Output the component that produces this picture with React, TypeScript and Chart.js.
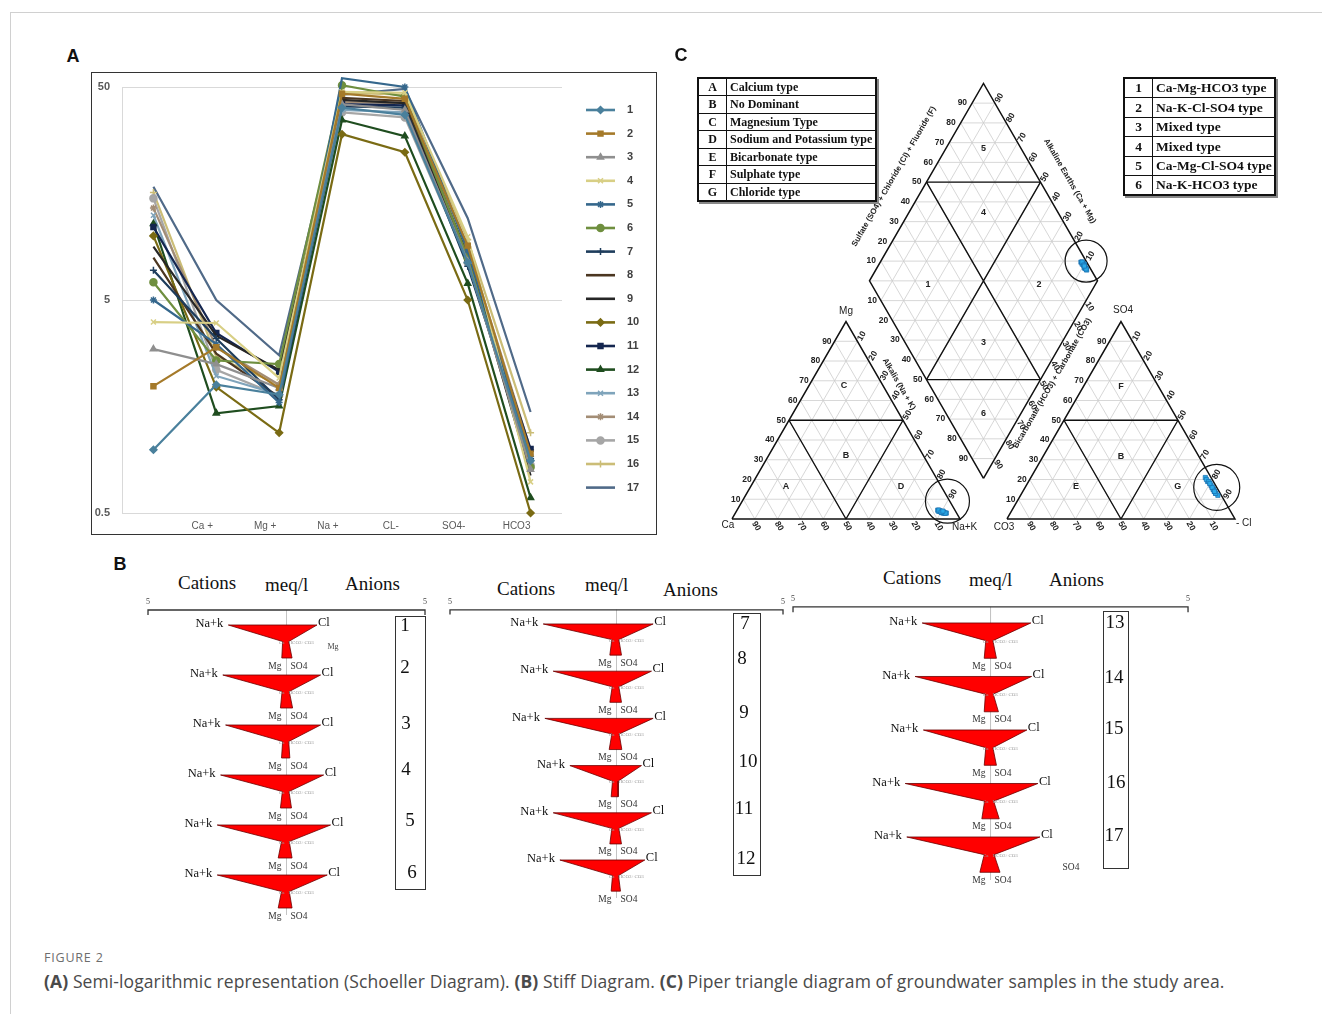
import React, { useEffect, useRef } from "react";
import { Chart, registerables } from "chart.js";
import { drawPoint } from "chart.js/helpers";

Chart.register(...registerables);

const SANS = '"Liberation Sans", Arial, sans-serif';
const SERIF = '"Liberation Serif", "Times New Roman", serif';
const CAPTION_FONT = '"Open Sans", "Noto Sans", sans-serif';

/* ---------------- Panel A : Schoeller diagram ---------------- */
const ionCategories = ["", "Ca +", "Mg +", "Na +", "CL-", "SO4-", "HCO3"];
const sampleIds = ["1", "2", "3", "4", "5", "6", "7", "8", "9", "10", "11", "12", "13", "14", "15", "16", "17"];
const schoeller01 = [0.99, 2.0, 1.8, 40, 37, 7.5, 0.88];
const schoeller02 = [1.97, 3.0, 1.93, 46.5, 44, 9.0, 0.95];
const schoeller03 = [2.94, 2.5, 1.93, 41.5, 39, 7.6, 0.8];
const schoeller04 = [3.94, 3.9, 2.15, 47.5, 47, 9.9, 0.7];
const schoeller05 = [5.0, 3.1, 1.65, 55, 50, 8.5, 0.92];
const schoeller06 = [6.06, 2.6, 2.5, 51, 45, 7.9, 0.82];
const schoeller07 = [6.9, 3.3, 1.7, 40.5, 40, 7.2, 0.9];
const schoeller08 = [7.9, 2.8, 1.75, 44.5, 43, 8.1, 0.78];
const schoeller09 = [8.9, 3.4, 2.35, 43.5, 42, 8.0, 0.75];
const schoeller10 = [10.0, 1.95, 1.19, 30, 24.7, 5.0, 0.5];
const schoeller11 = [11.0, 3.5, 2.3, 41.5, 41, 7.9, 1.0];
const schoeller12 = [11.4, 1.47, 1.59, 35, 29.4, 5.98, 0.59];
const schoeller13 = [12.5, 2.2, 1.8, 39, 38, 8.1, 0.91];
const schoeller14 = [13.5, 3.0, 2.0, 42.5, 42, 8.9, 0.99];
const schoeller15 = [15, 2.35, 1.78, 38, 36, 7.5, 0.84];
const schoeller16 = [16, 2.7, 2.0, 47, 46, 9.6, 1.19];
const schoeller17 = [17.0, 5.0, 2.75, 46, 49, 12.1, 1.49];
const schoellerTicks = [0.5, 5, 50];

const sampleColors = [
  "#4a809c", "#a57a2a", "#8f8f8f", "#d8cf85", "#35678c", "#6f8f3f", "#1e3d5c", "#4b3621", "#262626",
  "#7a6b14", "#14264f", "#1f4d1f", "#7fa4bb", "#a38d75", "#a6a6a6", "#cbbd77", "#506a88",
];
const sampleMarkers = [
  "rectRot", "rect", "triangle", "crossRot", "star", "circle", "cross", null, null,
  "rectRot", "rect", "triangle", "crossRot", "star", "circle", "cross", null,
];

/* ---------------- Panel B : Stiff diagrams (meq/l) ---------------- */
const stiffScale = [-5, 5];
const stiffHeader = ["Cations", "meq/l", "Anions"];
const stiffNaK = [2.1, 2.3, 2.2, 2.38, 2.5, 2.5, 2.2, 1.9, 2.15, 1.4, 1.9, 1.7, 1.73, 1.91, 1.7, 2.16, 2.12];
const stiffCl = [1.1, 1.23, 1.23, 1.34, 1.59, 1.47, 1.1, 1.05, 1.1, 0.75, 1.05, 0.85, 1.02, 1.04, 0.92, 1.2, 1.25];
const stiffCa = [0.14, 0.16, 0.14, 0.15, 0.18, 0.18, 0.14, 0.13, 0.14, 0.12, 0.14, 0.12, 0.12, 0.13, 0.12, 0.15, 0.16];
const stiffHCO3 = [0.08, 0.1, 0.08, 0.09, 0.1, 0.1, 0.07, 0.07, 0.08, 0.05, 0.07, 0.06, 0.06, 0.07, 0.06, 0.08, 0.09];
const stiffMg = [0.17, 0.22, 0.18, 0.22, 0.3, 0.3, 0.2, 0.2, 0.22, 0.16, 0.2, 0.16, 0.16, 0.16, 0.16, 0.22, 0.27];
const stiffSO4 = [0.2, 0.22, 0.12, 0.18, 0.2, 0.2, 0.15, 0.15, 0.16, 0.05, 0.15, 0.12, 0.15, 0.2, 0.15, 0.22, 0.24];
const stiffGroups = [[0, 1, 2, 3, 4, 5], [6, 7, 8, 9, 10, 11], [12, 13, 14, 15, 16]];

/* ---------------- Panel C : Piper diagram (%) ---------------- */
const piperMg = [3.5, 4, 3, 3.5, 4.5, 4, 3, 3, 4, 3.5, 3, 4, 3.5, 3, 4.5, 3.5, 4];
const piperNaK = [90, 89, 91, 90.5, 88, 89.5, 91.5, 92, 89, 90, 92.5, 88.5, 91, 92, 88.5, 90, 90.5];
const piperSO4 = [16, 14, 19, 13, 21, 15, 18, 14, 20, 12, 17, 15, 19, 16, 13, 18, 14];
const piperCl = [82, 84, 78.5, 85, 76.5, 83, 80, 84, 77.5, 86.5, 81, 83, 79, 82, 85, 80, 84];
const circleCation = [9, 90]; // Mg, Na+K
const circleAnion = [16, 84]; // SO4, Cl
const ternarySteps = [10, 20, 30, 40, 50, 60, 70, 80, 90];

const fieldCodes = ["A", "B", "C", "D", "E", "F", "G"];
const fieldNames = ["Calcium type", "No Dominant", "Magnesium Type", "Sodium and Potassium type", "Bicarbonate type", "Sulphate type", "Chloride type"];
const diamondCodes = ["1", "2", "3", "4", "5", "6"];
const diamondNames = ["Ca-Mg-HCO3 type", "Na-K-Cl-SO4 type", "Mixed type", "Mixed type", "Ca-Mg-Cl-SO4 type", "Na-K-HCO3 type"];

/* ---------------- geometry helpers (ternary -> cartesian) ---------------- */
const R3 = Math.sqrt(3);
const HH = R3 / 2;
const GAP = 20.6;
function catXY(mg: number, nak: number) { return { x: nak + mg / 2, y: mg * HH }; }
function anXY(so4: number, cl: number) { return { x: 100 + GAP + cl + so4 / 2, y: so4 * HH }; }
function diaXY(c: any, a: any) {
  const s = (a.x - c.x) + (a.y - c.y) / R3;
  return { x: c.x + s / 2, y: c.y + s * HH };
}
const DB = { x: 100 + GAP / 2, y: GAP * HH };
function diaUV(u: number, v: number) { return { x: DB.x + 50 * u - 50 * v, y: DB.y + 100 * HH * (u + v) }; }
const brk = () => ({ x: NaN, y: NaN });
function segData(segs: any[]) {
  const out: any[] = [];
  segs.forEach(([a, b]) => { out.push({ x: a.x, y: a.y }, { x: b.x, y: b.y }, brk()); });
  return out;
}
function triGrid(f: any) {
  const s: any[] = [];
  ternarySteps.forEach((k) => {
    s.push([f(k, 0), f(k, 100 - k)]);
    s.push([f(0, k), f(100 - k, k)]);
    s.push([f(0, 100 - k), f(100 - k, 0)]);
  });
  return s;
}
function diamondGrid() {
  const s: any[] = [];
  ternarySteps.forEach((k) => {
    const t = k / 100;
    s.push([diaUV(t, 0), diaUV(t, 1)]);
    s.push([diaUV(0, t), diaUV(1, t)]);
  });
  for (let j = 1; j < 20; j++) {
    const t = j / 10;
    if (j <= 10) s.push([diaUV(0, t), diaUV(t, 0)]);
    else s.push([diaUV(t - 1, 1), diaUV(1, t - 1)]);
  }
  return s;
}

/* ---------------- Schoeller chart ---------------- */
const schoellerLegend = {
  id: "schoellerLegend",
  afterDraw(chart: any) {
    const ctx = chart.ctx;
    sampleIds.forEach((id, i) => {
      const y = 37 + i * 23.6;
      const c = sampleColors[i];
      ctx.save();
      ctx.strokeStyle = c;
      ctx.fillStyle = c;
      ctx.lineWidth = 2.6;
      ctx.beginPath();
      ctx.moveTo(494, y);
      ctx.lineTo(523, y);
      ctx.stroke();
      const m = sampleMarkers[i];
      if (m) {
        ctx.lineWidth = 1.5;
        drawPoint(ctx, { pointStyle: m, radius: 3.5, borderWidth: 1.5, rotation: 0 } as any, 508.5, y);
      }
      ctx.fillStyle = "#404040";
      ctx.font = `bold 11px ${SANS}`;
      ctx.textAlign = "left";
      ctx.textBaseline = "middle";
      ctx.fillText(id, 535, y);
      ctx.restore();
    });
  },
};

function SchoellerChart() {
  const ref = useRef<HTMLCanvasElement | null>(null);
  useEffect(() => {
    const series = [schoeller01, schoeller02, schoeller03, schoeller04, schoeller05, schoeller06, schoeller07, schoeller08, schoeller09,
      schoeller10, schoeller11, schoeller12, schoeller13, schoeller14, schoeller15, schoeller16, schoeller17];
    const chart = new Chart(ref.current as HTMLCanvasElement, {
      type: "line",
      data: {
        labels: ionCategories,
        datasets: series.map((d, i) => ({
          label: sampleIds[i],
          data: d,
          borderColor: sampleColors[i],
          backgroundColor: sampleColors[i],
          borderWidth: 2.2,
          pointStyle: sampleMarkers[i] || "circle",
          pointRadius: sampleMarkers[i] ? 3.5 : 0,
          pointBorderWidth: 1.5,
          tension: 0,
          clip: false,
        })),
      },
      options: {
        animation: false,
        responsive: false,
        events: [],
        layout: { autoPadding: false, padding: { top: 14, left: 0, right: 94, bottom: 0 } },
        plugins: { legend: { display: false }, tooltip: { enabled: false } },
        scales: {
          x: {
            type: "category",
            offset: true,
            grid: { display: false, drawTicks: false },
            border: { display: false },
            ticks: { color: "#595959", font: { size: 10, family: SANS }, labelOffset: -14, padding: 7, maxRotation: 0, autoSkip: false },
            afterFit: (s: any) => { s.height = 21; s.paddingLeft = 0; s.paddingRight = 0; },
          },
          y: {
            type: "logarithmic",
            min: 0.5,
            max: 50,
            bounds: "data",
            afterBuildTicks: (s: any) => { s.ticks = schoellerTicks.map((v) => ({ value: v })); },
            grid: { color: "#d9d9d9", lineWidth: 1, drawTicks: false },
            border: { display: true, color: "#d9d9d9" },
            ticks: { color: "#595959", font: { size: 11, weight: "bold", family: SANS }, padding: 12, callback: (v: any) => String(v) },
            afterFit: (s: any) => { s.width = 30; s.paddingTop = 0; s.paddingBottom = 0; },
          },
        },
      },
      plugins: [schoellerLegend],
    } as any);
    return () => chart.destroy();
  }, []);
  return <canvas ref={ref} width={564} height={461} style={{ position: "absolute", left: 92, top: 73, width: 564, height: 461 }} />;
}

/* ---------------- Piper chart ---------------- */
const PIPER_BOX = { left: 690, top: 60, width: 600, height: 490 };
const PIPER_X = [-18.42, -18.42 + 600 / 2.28];
const PIPER_Y = [-13.6, -13.6 + 490 / 2.28];

const piperLabels = {
  id: "piperLabels",
  afterDatasetsDraw(chart: any) {
    const { ctx } = chart;
    const xs = chart.scales.x;
    const ys = chart.scales.y;
    const px = (p: any) => ({ x: xs.getPixelForValue(p.x), y: ys.getPixelForValue(p.y) });
    const draw = (s: string, x: number, y: number, align: string, rot: number, font: string, color = "#222") => {
      ctx.save();
      ctx.translate(x, y);
      if (rot) ctx.rotate(rot);
      ctx.font = font;
      ctx.fillStyle = color;
      ctx.textAlign = align;
      ctx.textBaseline = "middle";
      ctx.fillText(s, 0, 0);
      ctx.restore();
    };
    const tf = `bold 8.5px ${SANS}`;
    const R60 = Math.PI / 3;
    ternarySteps.forEach((k) => {
      const t = String(k);
      const f = k / 100;
      let p = px(catXY(k, 0)); draw(t, p.x - 3, p.y, "right", 0, tf);
      p = px(catXY(0, 100 - k)); draw(t, p.x - 1, p.y + 3, "left", R60, tf);
      p = px(catXY(100 - k, k)); draw(t, p.x + 2, p.y - 1, "left", -R60, tf);
      p = px(anXY(k, 0)); draw(t, p.x - 3, p.y, "right", 0, tf);
      p = px(anXY(0, 100 - k)); draw(t, p.x - 1, p.y + 3, "left", R60, tf);
      p = px(anXY(100 - k, k)); draw(t, p.x + 2, p.y - 1, "left", -R60, tf);
      p = px(diaUV(0, 1 - f)); draw(t, p.x - 4, p.y, "right", 0, tf);
      p = px(diaUV(f, 1)); draw(t, p.x - 5, p.y, "right", 0, tf);
      p = px(diaUV(1, f)); draw(t, p.x + 2, p.y - 1, "left", -R60, tf);
      p = px(diaUV(1 - f, 0)); draw(t, p.x + 1, p.y + 2, "left", R60, tf);
    });
    const ttl = `bold 8px ${SANS}`;
    const edgeTitle = (s: string, p0: any, nx: number, ny: number, d: number, rot: number) => {
      const p = px(p0);
      draw(s, p.x + nx * d, p.y + ny * d, "center", rot, ttl);
    };
    edgeTitle("Sulfate (SO4) + Chloride (Cl) + Fluoride (F)", diaUV(0.45, 1), -0.866, -0.5, 31, -R60);
    edgeTitle("Alkaline Earths (Ca + Mg)", diaUV(1, 0.44), 0.866, -0.5, 26, R60);
    edgeTitle("Alkalis (Na + K)", catXY(64.6, 35.4), 0.866, -0.5, 14.6, R60);
    edgeTitle("Bicarbonate (HCO3) + Carbonate (CO3)", diaUV(0.512, 0), 0.866, 0.5, 12, -R60);

    const vf = `10px ${SANS}`;
    let p = px(catXY(0, 0)); draw("Ca", p.x - 4, p.y + 6, "center", 0, vf);
    p = px(catXY(0, 100)); draw("Na+K", p.x - 8, p.y + 8, "left", 0, vf);
    p = px(catXY(100, 0)); draw("Mg", p.x, p.y - 10, "center", 0, vf);
    p = px(anXY(0, 0)); draw("CO3", p.x - 3, p.y + 8, "center", 0, vf);
    p = px(anXY(0, 100)); draw("- Cl", p.x + 1, p.y + 4, "left", 0, vf);
    p = px(anXY(100, 0)); draw("SO4", p.x + 2, p.y - 11, "center", 0, vf);

    const rf = `bold 9px ${SANS}`;
    ([["A", 16.7, 15.3], ["B", 31.9, 34], ["C", 67.4, 15.4], ["D", 16.2, 66]] as any[]).forEach(([s, a, b]) => {
      const q = px(catXY(a, b)); draw(s, q.x, q.y, "center", 0, rf);
    });
    ([["E", 16.2, 22.2], ["F", 66.9, 16.6], ["B", 31.4, 34.3], ["G", 16.7, 66.6]] as any[]).forEach(([s, a, b]) => {
      const q = px(anXY(a, b)); draw(s, q.x, q.y, "center", 0, rf);
    });
    ([["1", 0.246, 0.733], ["2", 0.733, 0.246], ["3", 0.343, 0.343], ["4", 0.672, 0.672], ["5", 0.836, 0.836], ["6", 0.165, 0.165]] as any[]).forEach(([s, u, v]) => {
      const q = px(diaUV(u, v)); draw(s, q.x, q.y, "center", 0, rf);
    });
  },
};

function PiperChart() {
  const ref = useRef<HTMLCanvasElement | null>(null);
  useEffect(() => {
    const grid = segData([...triGrid(catXY), ...triGrid(anXY), ...diamondGrid()]);
    const tri = (f: any) => [f(0, 0), f(0, 100), f(100, 0), f(0, 0)];
    const outline = [...tri(catXY), brk(), ...tri(anXY), brk(), diaUV(0, 0), diaUV(1, 0), diaUV(1, 1), diaUV(0, 1), diaUV(0, 0)];
    const triDiv = (f: any) => [[f(50, 0), f(50, 50)], [f(50, 0), f(0, 50)], [f(50, 50), f(0, 50)]];
    const dividers = segData([
      ...triDiv(catXY), ...triDiv(anXY),
      [diaUV(0.5, 1), diaUV(1, 0.5)], [diaUV(0, 0.5), diaUV(0.5, 0)],
      [diaUV(0.5, 1), diaUV(0.5, 0)], [diaUV(1, 0.5), diaUV(0, 0.5)],
    ]);
    const catPts = piperMg.map((m, i) => catXY(m, piperNaK[i]));
    const anPts = piperSO4.map((s, i) => anXY(s, piperCl[i]));
    const diaPts = catPts.map((c, i) => diaXY(c, anPts[i]));
    const cc = catXY(circleCation[0], circleCation[1]);
    const ac = anXY(circleAnion[0], circleAnion[1]);
    const dc = diaXY(cc, ac);
    const chart = new Chart(ref.current as HTMLCanvasElement, {
      type: "scatter",
      data: {
        datasets: [
          { data: [...catPts, ...anPts, ...diaPts], pointStyle: "rect", pointRadius: 3, backgroundColor: "#2aa9e8", borderColor: "#1a6fae", borderWidth: 0.7, showLine: false, order: 0 },
          { data: [cc, ac, dc], pointStyle: "circle", pointRadius: [22, 23, 21], backgroundColor: "rgba(0,0,0,0)", borderColor: "#111", borderWidth: 1.2, showLine: false, order: 1 },
          { data: dividers, showLine: true, borderColor: "#111", borderWidth: 1.4, pointRadius: 0, order: 2 },
          { data: outline, showLine: true, borderColor: "#111", borderWidth: 1.5, pointRadius: 0, order: 3 },
          { data: grid, showLine: true, borderColor: "#cdcdcd", borderWidth: 0.8, pointRadius: 0, order: 4 },
        ],
      },
      options: {
        animation: false,
        responsive: false,
        events: [],
        layout: { autoPadding: false, padding: 0 },
        plugins: { legend: { display: false }, tooltip: { enabled: false } },
        scales: {
          x: { type: "linear", min: PIPER_X[0], max: PIPER_X[1], bounds: "data", display: false },
          y: { type: "linear", min: PIPER_Y[0], max: PIPER_Y[1], bounds: "data", display: false },
        },
      },
      plugins: [piperLabels],
    } as any);
    return () => chart.destroy();
  }, []);
  return (
    <canvas ref={ref} width={PIPER_BOX.width} height={PIPER_BOX.height}
      style={{ position: "absolute", left: PIPER_BOX.left, top: PIPER_BOX.top, width: PIPER_BOX.width, height: PIPER_BOX.height }} />
  );
}

/* ---------------- Stiff charts ---------------- */
const stiffFrames = [
  { left: 140, top: 595, width: 300, height: 330, xMin: -5.289, xMax: 5.541, yMin: -0.6, yMax: 6.0 },
  { left: 440, top: 595, width: 360, height: 330, xMin: -5.3, xMax: 5.51, yMin: -0.614, yMax: 6.377 },
  { left: 785, top: 595, width: 415, height: 330, xMin: -5.203, xMax: 5.303, yMin: -0.523, yMax: 5.645 },
];

function StiffChart({ gi }: { gi: number }) {
  const ref = useRef<HTMLCanvasElement | null>(null);
  const fr = stiffFrames[gi];
  useEffect(() => {
    const members = stiffGroups[gi];
    const datasets: any[] = members.map((s, i) => ({
      data: [
        { x: -stiffNaK[s], y: i }, { x: stiffCl[s], y: i },
        { x: stiffHCO3[s], y: i + 0.33 }, { x: stiffSO4[s], y: i + 0.66 },
        { x: -stiffMg[s], y: i + 0.66 }, { x: -stiffCa[s], y: i + 0.33 },
        { x: -stiffNaK[s], y: i },
      ],
      showLine: true, fill: "shape", backgroundColor: "#ff0000", borderColor: "#6b0000", borderWidth: 0.8, pointRadius: 0, order: 0,
    }));
    datasets.push({
      data: [{ x: stiffScale[0], y: -0.2 }, { x: stiffScale[0], y: -0.3 }, { x: stiffScale[1], y: -0.3 }, { x: stiffScale[1], y: -0.2 }],
      showLine: true, borderColor: "#333", borderWidth: 1.3, pointRadius: 0, order: 1,
    });
    datasets.push({
      data: [{ x: 0, y: -0.3 }, { x: 0, y: members.length - 1 + 0.8 }],
      showLine: true, borderColor: "#c4c4c4", borderWidth: 1, pointRadius: 0, order: 2,
    });
    const labels = {
      id: "stiffLabels",
      afterDatasetsDraw(chart: any) {
        const { ctx } = chart;
        const X = (v: number) => chart.scales.x.getPixelForValue(v);
        const Y = (v: number) => chart.scales.y.getPixelForValue(v);
        const draw = (s: string, x: number, y: number, align: string, font: string, color = "#111") => {
          ctx.save();
          ctx.font = font;
          ctx.fillStyle = color;
          ctx.textAlign = align;
          ctx.textBaseline = "middle";
          ctx.fillText(s, x, y);
          ctx.restore();
        };
        draw("5", X(stiffScale[0]), Y(-0.3) - 8, "center", `8px ${SERIF}`, "#444");
        draw("5", X(stiffScale[1]), Y(-0.3) - 8, "center", `8px ${SERIF}`, "#444");
        members.forEach((s, i) => {
          draw("Na+k", X(-stiffNaK[s]) - 5, Y(i) - 1, "right", `12.5px ${SERIF}`);
          draw("Cl", X(stiffCl[s]) + 1, Y(i) - 2, "left", `12.5px ${SERIF}`);
          draw("Ca", X(0) - 2, Y(i + 0.33) + 1, "right", `5px ${SERIF}`, "#999");
          draw("HCO3+CO3", X(0) + 2, Y(i + 0.33) + 1, "left", `5px ${SERIF}`, "#999");
          draw("Mg", X(0) - 5, Y(i + 0.66) + 8, "right", `9.5px ${SERIF}`, "#333");
          draw("SO4", X(0) + 4, Y(i + 0.66) + 8, "left", `9.5px ${SERIF}`, "#333");
        });
      },
    };
    const chart = new Chart(ref.current as HTMLCanvasElement, {
      type: "scatter",
      data: { datasets },
      options: {
        animation: false,
        responsive: false,
        events: [],
        layout: { autoPadding: false, padding: 0 },
        plugins: { legend: { display: false }, tooltip: { enabled: false } },
        scales: {
          x: { type: "linear", min: fr.xMin, max: fr.xMax, bounds: "data", display: false },
          y: { type: "linear", min: fr.yMin, max: fr.yMax, reverse: true, bounds: "data", display: false },
        },
      },
      plugins: [labels],
    } as any);
    return () => chart.destroy();
  }, [gi]);
  return <canvas ref={ref} width={fr.width} height={fr.height} style={{ position: "absolute", left: fr.left, top: fr.top, width: fr.width, height: fr.height }} />;
}

/* ---------------- HTML helpers ---------------- */
function T({ x, y, s, children, anchor = "left", font = SERIF, weight = "normal", color = "#111" }: any) {
  const tr = anchor === "center" ? "translateX(-50%)" : anchor === "right" ? "translateX(-100%)" : undefined;
  return (
    <div style={{ position: "absolute", left: x, top: y - s * 0.6, fontSize: s, lineHeight: `${s * 1.2}px`, fontFamily: font, fontWeight: weight, color, whiteSpace: "nowrap", transform: tr }}>
      {children}
    </div>
  );
}

function TypeTable({ left, top, width, rowH, codeW, codes, names, fontSize }: any) {
  return (
    <table style={{ position: "absolute", left, top, width, borderCollapse: "collapse", border: "2px solid #111", boxShadow: "2px 2px 0 #888", fontFamily: SERIF, fontWeight: "bold", fontSize, color: "#111", background: "#fff" }}>
      <tbody>
        {codes.map((c: string, i: number) => (
          <tr key={i} style={{ height: rowH }}>
            <td style={{ width: codeW, border: "1.5px solid #111", textAlign: "center", padding: 0, lineHeight: 1 }}>{c}</td>
            <td style={{ border: "1.5px solid #111", padding: "0 0 0 3px", lineHeight: 1, whiteSpace: "nowrap" }}>{names[i]}</td>
          </tr>
        ))}
      </tbody>
    </table>
  );
}

const stiffHeaderPos = [
  [[178, 583], [265, 585], [345, 584]],
  [[497, 589], [585, 585], [663, 590]],
  [[883, 578], [969, 580], [1049, 580]],
];
const stiffBoxes = [
  { left: 395, top: 616, width: 31, height: 274 },
  { left: 733, top: 613, width: 28, height: 263 },
  { left: 1103, top: 611, width: 26, height: 258 },
];
const stiffNumberPos = [
  [405, 625], [405, 667], [406, 723], [406, 769], [410, 820], [412, 872],
  [745, 623], [742, 658], [744, 712], [748, 761], [744, 808], [746, 858],
  [1115, 622], [1114, 677], [1114, 728], [1116, 782], [1114, 835],
];

export default function App() {
  return (
    <div style={{ position: "absolute", left: 0, top: 0, width: 1322, height: 1014, background: "#fff", overflow: "hidden" }}>
      <div style={{ position: "absolute", left: 10, top: 12, width: 1312, height: 0, borderTop: "1px solid #d0d0d0" }} />
      <div style={{ position: "absolute", left: 10, top: 12, width: 0, height: 1002, borderLeft: "1px solid #d0d0d0" }} />

      {/* Panel A */}
      <div style={{ position: "absolute", left: 91, top: 72, width: 566, height: 463, border: "1.5px solid #333", boxSizing: "border-box" }} />
      <SchoellerChart />
      <T x={73} y={57} s={18} anchor="center" font={SANS} weight="bold">A</T>

      {/* Panel C */}
      <PiperChart />
      <TypeTable left={697} top={77} width={180} rowH={17.5} codeW={27} codes={fieldCodes} names={fieldNames} fontSize={12} />
      <TypeTable left={1123} top={77} width={153} rowH={19.5} codeW={27} codes={diamondCodes} names={diamondNames} fontSize={13.5} />
      <T x={681} y={56} s={18} anchor="center" font={SANS} weight="bold">C</T>

      {/* Panel B */}
      <T x={120} y={565} s={18} anchor="center" font={SANS} weight="bold">B</T>
      {stiffHeaderPos.map((g, gi) =>
        g.map((p, k) => (
          <T key={`${gi}-${k}`} x={p[0]} y={p[1]} s={19}>{stiffHeader[k]}</T>
        ))
      )}
      {stiffBoxes.map((b, i) => (
        <div key={i} style={{ position: "absolute", left: b.left, top: b.top, width: b.width, height: b.height, border: "1px solid #333", boxSizing: "border-box" }} />
      ))}
      <StiffChart gi={0} />
      <StiffChart gi={1} />
      <StiffChart gi={2} />
      {stiffNumberPos.map((p, i) => (
        <T key={i} x={p[0]} y={p[1]} s={19} anchor="center">{sampleIds[i]}</T>
      ))}
      <T x={333} y={647} s={8} anchor="center" color="#444">Mg</T>
      <T x={1071} y={868} s={9.5} anchor="center" color="#333">SO4</T>

      {/* Caption */}
      <div style={{ position: "absolute", left: 44, top: 949, fontFamily: CAPTION_FONT, fontSize: 12.5, letterSpacing: 0.8, color: "#6d6d6d", whiteSpace: "nowrap" }}>FIGURE 2</div>
      <div style={{ position: "absolute", left: 44, top: 969, fontFamily: CAPTION_FONT, fontSize: 17.5, letterSpacing: 0.1, color: "#4a4a4a", whiteSpace: "nowrap" }}>
        <b>(A)</b> Semi-logarithmic representation (Schoeller Diagram). <b>(B)</b> Stiff Diagram. <b>(C)</b> Piper triangle diagram of groundwater samples in the study area.
      </div>
    </div>
  );
}
